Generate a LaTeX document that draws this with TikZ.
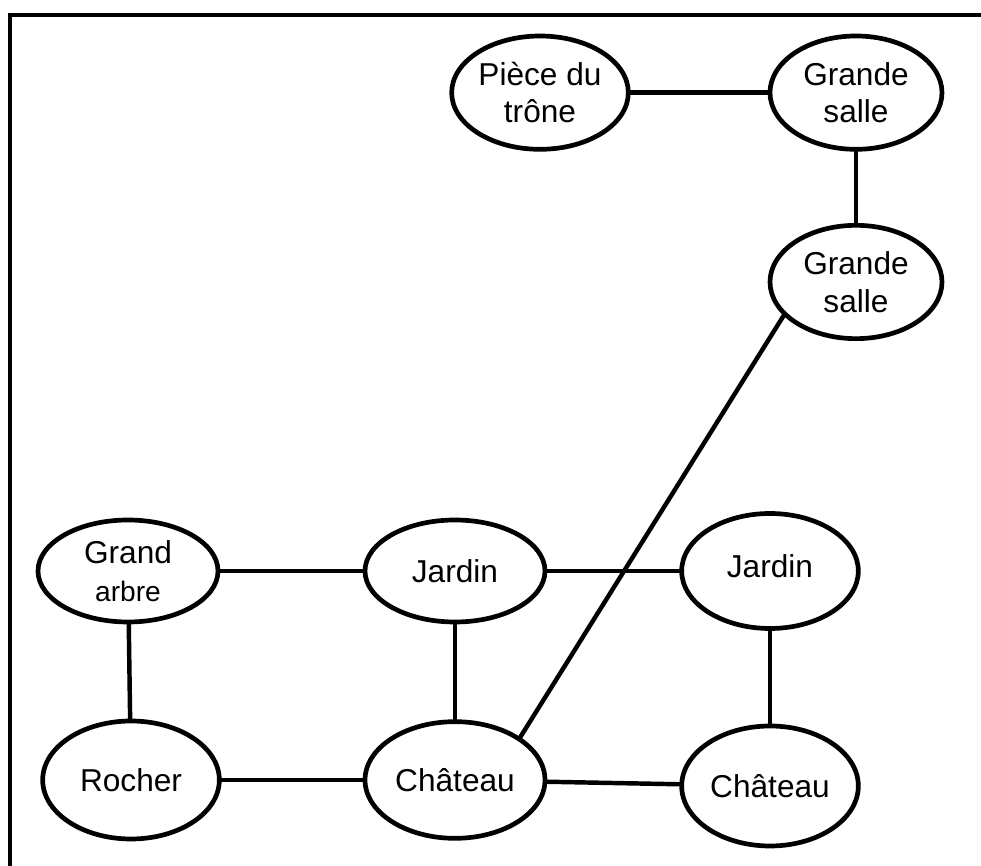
\documentclass[tikz,border=0pt]{standalone}
\usepackage{fontspec}
\setmainfont{Liberation Sans}
\usetikzlibrary{shapes.geometric}

\begin{document}
\begin{tikzpicture}[x=1cm,y=1cm]
\tikzset{
  placenode/.style={ellipse,draw=black,line width=4pt,minimum width=5.3cm,minimum height=3.4cm,inner sep=0pt,align=center,font=\fontsize{27}{32}\selectfont},
  placeedge/.style={draw=black,line width=3.8pt,line cap=round,line join=round},
  undirected/.style={placeedge}
}
\useasboundingbox (0,0) rectangle (29.43,25.98);
% frame
\draw[line width=3.8pt] (29.60,25.53) -- (0.30,25.53) -- (0.30,-0.20);
\node[placenode] (n_piece) at (16.20,23.20) {Pièce du\\trône};
\node[placenode,minimum width=5.16cm] (n_salle1) at (25.68,23.20) {Grande\\salle};
\node[placenode,minimum width=5.16cm] (n_salle2) at (25.68,17.52) {Grande\\salle};
\node[placenode,minimum width=5.4cm,minimum height=3.06cm] (n_arbre) at (3.84,8.85) {Grand\\{\fontsize{24}{32}\selectfont arbre}};
\node[placenode,minimum width=5.4cm,minimum height=3.06cm] (n_jardin1) at (13.65,8.85) {Jardin};
\node[placenode,minimum height=3.45cm] (n_jardin2) at (23.10,8.85) {\raisebox{0.3cm}{Jardin}};
\node[placenode,minimum height=3.54cm] (n_rocher) at (3.93,2.58) {Rocher};
\node[placenode,minimum width=5.4cm,minimum height=3.5cm] (n_chateau1) at (13.65,2.58) {Château};
\node[placenode,minimum height=3.6cm] (n_chateau2) at (23.10,2.40) {Château};
\draw[undirected] (n_piece) -- (n_salle1);
\draw[undirected] (n_salle1) -- (n_salle2);
\draw[undirected] (n_arbre) -- (n_jardin1);
\draw[undirected] (n_jardin1) -- (n_jardin2);
\draw[undirected] (n_arbre) -- (n_rocher);
\draw[undirected] (n_jardin1) -- (n_chateau1);
\draw[undirected] (n_jardin2) -- (n_chateau2);
\draw[undirected] (n_rocher) -- (n_chateau1);
\draw[undirected] (n_chateau1) -- (n_chateau2);
\draw[undirected] (n_chateau1.north east) -- (n_salle2.205);
\end{tikzpicture}
\end{document}
